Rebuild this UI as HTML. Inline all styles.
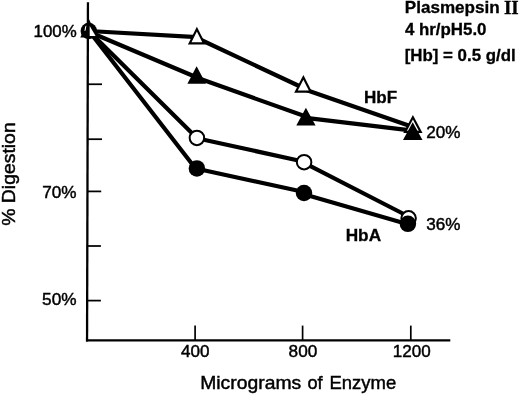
<!DOCTYPE html>
<html><head><meta charset="utf-8"><style>
html,body{margin:0;padding:0;background:#fff;}
body{width:520px;height:394px;overflow:hidden;}
svg{display:block;}
</style></head><body>
<svg width="520" height="394" viewBox="0 0 520 394">
<rect width="520" height="394" fill="#fff"/>
<line x1="87.95" y1="2.2" x2="87.05" y2="341.5" stroke="#000" stroke-width="2.3"/>
<line x1="86" y1="340.4" x2="450.3" y2="340.4" stroke="#000" stroke-width="2.3"/>
<line x1="87.6" y1="84.25" x2="102.0" y2="84.25" stroke="#000" stroke-width="1.75"/>
<line x1="87.6" y1="139.2" x2="102.0" y2="139.2" stroke="#000" stroke-width="1.75"/>
<line x1="87.6" y1="191.4" x2="101.2" y2="191.4" stroke="#000" stroke-width="1.75"/>
<line x1="87.6" y1="246.0" x2="100.9" y2="246.0" stroke="#000" stroke-width="1.75"/>
<line x1="87.6" y1="300.6" x2="100.9" y2="300.6" stroke="#000" stroke-width="1.75"/>
<line x1="195.1" y1="325.6" x2="195.1" y2="340" stroke="#000" stroke-width="1.7"/>
<line x1="302.6" y1="325.6" x2="302.6" y2="340" stroke="#000" stroke-width="1.7"/>
<line x1="410.8" y1="325.6" x2="410.8" y2="340" stroke="#000" stroke-width="1.7"/>
<polyline points="88.80,31.00 196.90,37.20" fill="none" stroke="#000" stroke-width="4.2" stroke-linejoin="round" stroke-linecap="round"/>
<polyline points="196.90,38.00 303.40,88.00" fill="none" stroke="#000" stroke-width="4.2" stroke-linejoin="round" stroke-linecap="round"/>
<polyline points="303.40,89.00 412.90,127.00" fill="none" stroke="#000" stroke-width="4.2" stroke-linejoin="round" stroke-linecap="round"/>
<polyline points="88.80,31.80 196.40,77.20" fill="none" stroke="#000" stroke-width="4.2" stroke-linejoin="round" stroke-linecap="round"/>
<polyline points="196.40,77.60 305.80,116.60" fill="none" stroke="#000" stroke-width="4.2" stroke-linejoin="round" stroke-linecap="round"/>
<polyline points="305.80,117.80 412.70,130.70" fill="none" stroke="#000" stroke-width="4.2" stroke-linejoin="round" stroke-linecap="round"/>
<polyline points="88.80,31.00 196.90,137.90" fill="none" stroke="#000" stroke-width="4.2" stroke-linejoin="round" stroke-linecap="round"/>
<polyline points="196.90,138.30 304.10,161.70" fill="none" stroke="#000" stroke-width="4.2" stroke-linejoin="round" stroke-linecap="round"/>
<polyline points="304.10,162.90 408.60,216.50" fill="none" stroke="#000" stroke-width="4.2" stroke-linejoin="round" stroke-linecap="round"/>
<polyline points="88.80,30.80 196.90,170.20" fill="none" stroke="#000" stroke-width="4.2" stroke-linejoin="round" stroke-linecap="round"/>
<polyline points="196.90,168.80 304.00,192.00" fill="none" stroke="#000" stroke-width="4.2" stroke-linejoin="round" stroke-linecap="round"/>
<polyline points="304.00,194.20 407.90,224.30" fill="none" stroke="#000" stroke-width="4.2" stroke-linejoin="round" stroke-linecap="round"/>
<circle cx="196.9" cy="137.9" r="7.25" fill="#fff" stroke="#000" stroke-width="2.0"/>
<circle cx="304.1" cy="162.2" r="7.25" fill="#fff" stroke="#000" stroke-width="2.0"/>
<circle cx="408.6" cy="218.3" r="7.25" fill="#fff" stroke="#000" stroke-width="2.0"/>
<circle cx="196.9" cy="168.4" r="8.25" fill="#000"/>
<circle cx="304.0" cy="193.0" r="8.25" fill="#000"/>
<circle cx="407.9" cy="223.8" r="8.25" fill="#000"/>
<polygon points="196.90,26.70 205.80,44.40 187.90,44.40" fill="#000"/>
<polygon points="196.89,31.58 202.23,42.20 191.49,42.20" fill="#fff"/>
<polygon points="303.40,75.00 312.40,92.70 294.20,92.70" fill="#000"/>
<polygon points="303.38,79.81 308.81,90.50 297.82,90.50" fill="#fff"/>
<polygon points="412.90,114.90 422.50,133.00 403.30,133.00" fill="#000"/>
<polygon points="412.90,119.60 418.84,130.80 406.96,130.80" fill="#fff"/>
<polygon points="196.60,66.30 206.00,83.80 187.40,83.80" fill="#000"/>
<polygon points="305.90,107.80 315.60,125.60 296.30,125.60" fill="#000"/>
<polygon points="412.70,122.20 422.50,139.90 403.00,139.90" fill="#000"/>
<circle cx="88.8" cy="31.0" r="8.25" fill="#000"/>
<polygon points="88.80,18.70 97.40,37.40 80.30,37.40" fill="#000"/>
<polygon points="89.7,26.0 95.6,36.0 89.7,36.0" fill="#fff"/>
<polygon points="85.2,26.6 86.4,25.4 85.6,30.5 84.4,31.0" fill="#fff"/>
<text x="33.53" y="36.65" font-size="16.6" font-family='"Liberation Sans", Arial, sans-serif' textLength="43.16" lengthAdjust="spacingAndGlyphs" stroke="#000" stroke-width="0.45">100%</text>
<text x="42.25" y="198.2" font-size="16.6" font-family='"Liberation Sans", Arial, sans-serif' textLength="34.35" lengthAdjust="spacingAndGlyphs" stroke="#000" stroke-width="0.45">70%</text>
<text x="42.1" y="305.3" font-size="16.6" font-family='"Liberation Sans", Arial, sans-serif' textLength="34.5" lengthAdjust="spacingAndGlyphs" stroke="#000" stroke-width="0.45">50%</text>
<text x="181.05" y="356.7" font-size="16.6" font-family='"Liberation Sans", Arial, sans-serif' textLength="28.47" lengthAdjust="spacingAndGlyphs" stroke="#000" stroke-width="0.45">400</text>
<text x="288.6" y="356.7" font-size="16.6" font-family='"Liberation Sans", Arial, sans-serif' textLength="28.71" lengthAdjust="spacingAndGlyphs" stroke="#000" stroke-width="0.45">800</text>
<text x="392.81" y="356.7" font-size="16.6" font-family='"Liberation Sans", Arial, sans-serif' textLength="37.89" lengthAdjust="spacingAndGlyphs" stroke="#000" stroke-width="0.45">1200</text>
<text x="200.23" y="388.8" font-size="18.4" font-family='"Liberation Sans", Arial, sans-serif' textLength="100.97" lengthAdjust="spacingAndGlyphs" stroke="#000" stroke-width="0.45">Micrograms</text>
<text x="307.4" y="388.8" font-size="18.4" font-family='"Liberation Sans", Arial, sans-serif' textLength="15.15" lengthAdjust="spacingAndGlyphs" stroke="#000" stroke-width="0.45">of</text>
<text x="329.49" y="388.8" font-size="18.4" font-family='"Liberation Sans", Arial, sans-serif' textLength="66.68" lengthAdjust="spacingAndGlyphs" stroke="#000" stroke-width="0.45">Enzyme</text>
<text x="426.15" y="137.9" font-size="16.6" font-family='"Liberation Sans", Arial, sans-serif' textLength="34.24" lengthAdjust="spacingAndGlyphs" stroke="#000" stroke-width="0.45">20%</text>
<text x="426.2" y="229.5" font-size="16.6" font-family='"Liberation Sans", Arial, sans-serif' textLength="34.19" lengthAdjust="spacingAndGlyphs" stroke="#000" stroke-width="0.45">36%</text>
<text x="404.75" y="13.4" font-size="16.5" font-weight="bold" font-family='"Liberation Sans", Arial, sans-serif' textLength="94.97" lengthAdjust="spacingAndGlyphs" stroke="#000" stroke-width="0.3">Plasmepsin</text>
<text x="503.9" y="14.1" font-size="18" font-weight="bold" font-family='"Liberation Serif", serif' textLength="14.78" lengthAdjust="spacingAndGlyphs" stroke="#000" stroke-width="0.3">II</text>
<text x="404.9" y="34.6" font-size="16.5" font-weight="bold" font-family='"Liberation Sans", Arial, sans-serif' textLength="81.59" lengthAdjust="spacingAndGlyphs" stroke="#000" stroke-width="0.3">4 hr/pH5.0</text>
<text x="404.65" y="61.2" font-size="16.5" font-weight="bold" font-family='"Liberation Sans", Arial, sans-serif' textLength="111.07" lengthAdjust="spacingAndGlyphs" stroke="#000" stroke-width="0.3">[Hb] = 0.5 g/dl</text>
<text x="364.0" y="102.9" font-size="16.8" font-weight="bold" font-family='"Liberation Sans", Arial, sans-serif' textLength="33.13" lengthAdjust="spacingAndGlyphs" stroke="#000" stroke-width="0.3">HbF</text>
<text x="345.7" y="240.8" font-size="16.8" font-weight="bold" font-family='"Liberation Sans", Arial, sans-serif' textLength="35.4" lengthAdjust="spacingAndGlyphs" stroke="#000" stroke-width="0.3">HbA</text>
<text transform="translate(15.2,225.8) rotate(-90)" x="0" y="0" font-size="19" font-family='"Liberation Sans", Arial, sans-serif' stroke="#000" stroke-width="0.45" textLength="103.5" lengthAdjust="spacingAndGlyphs">% Digestion</text>
</svg>
</body></html>
